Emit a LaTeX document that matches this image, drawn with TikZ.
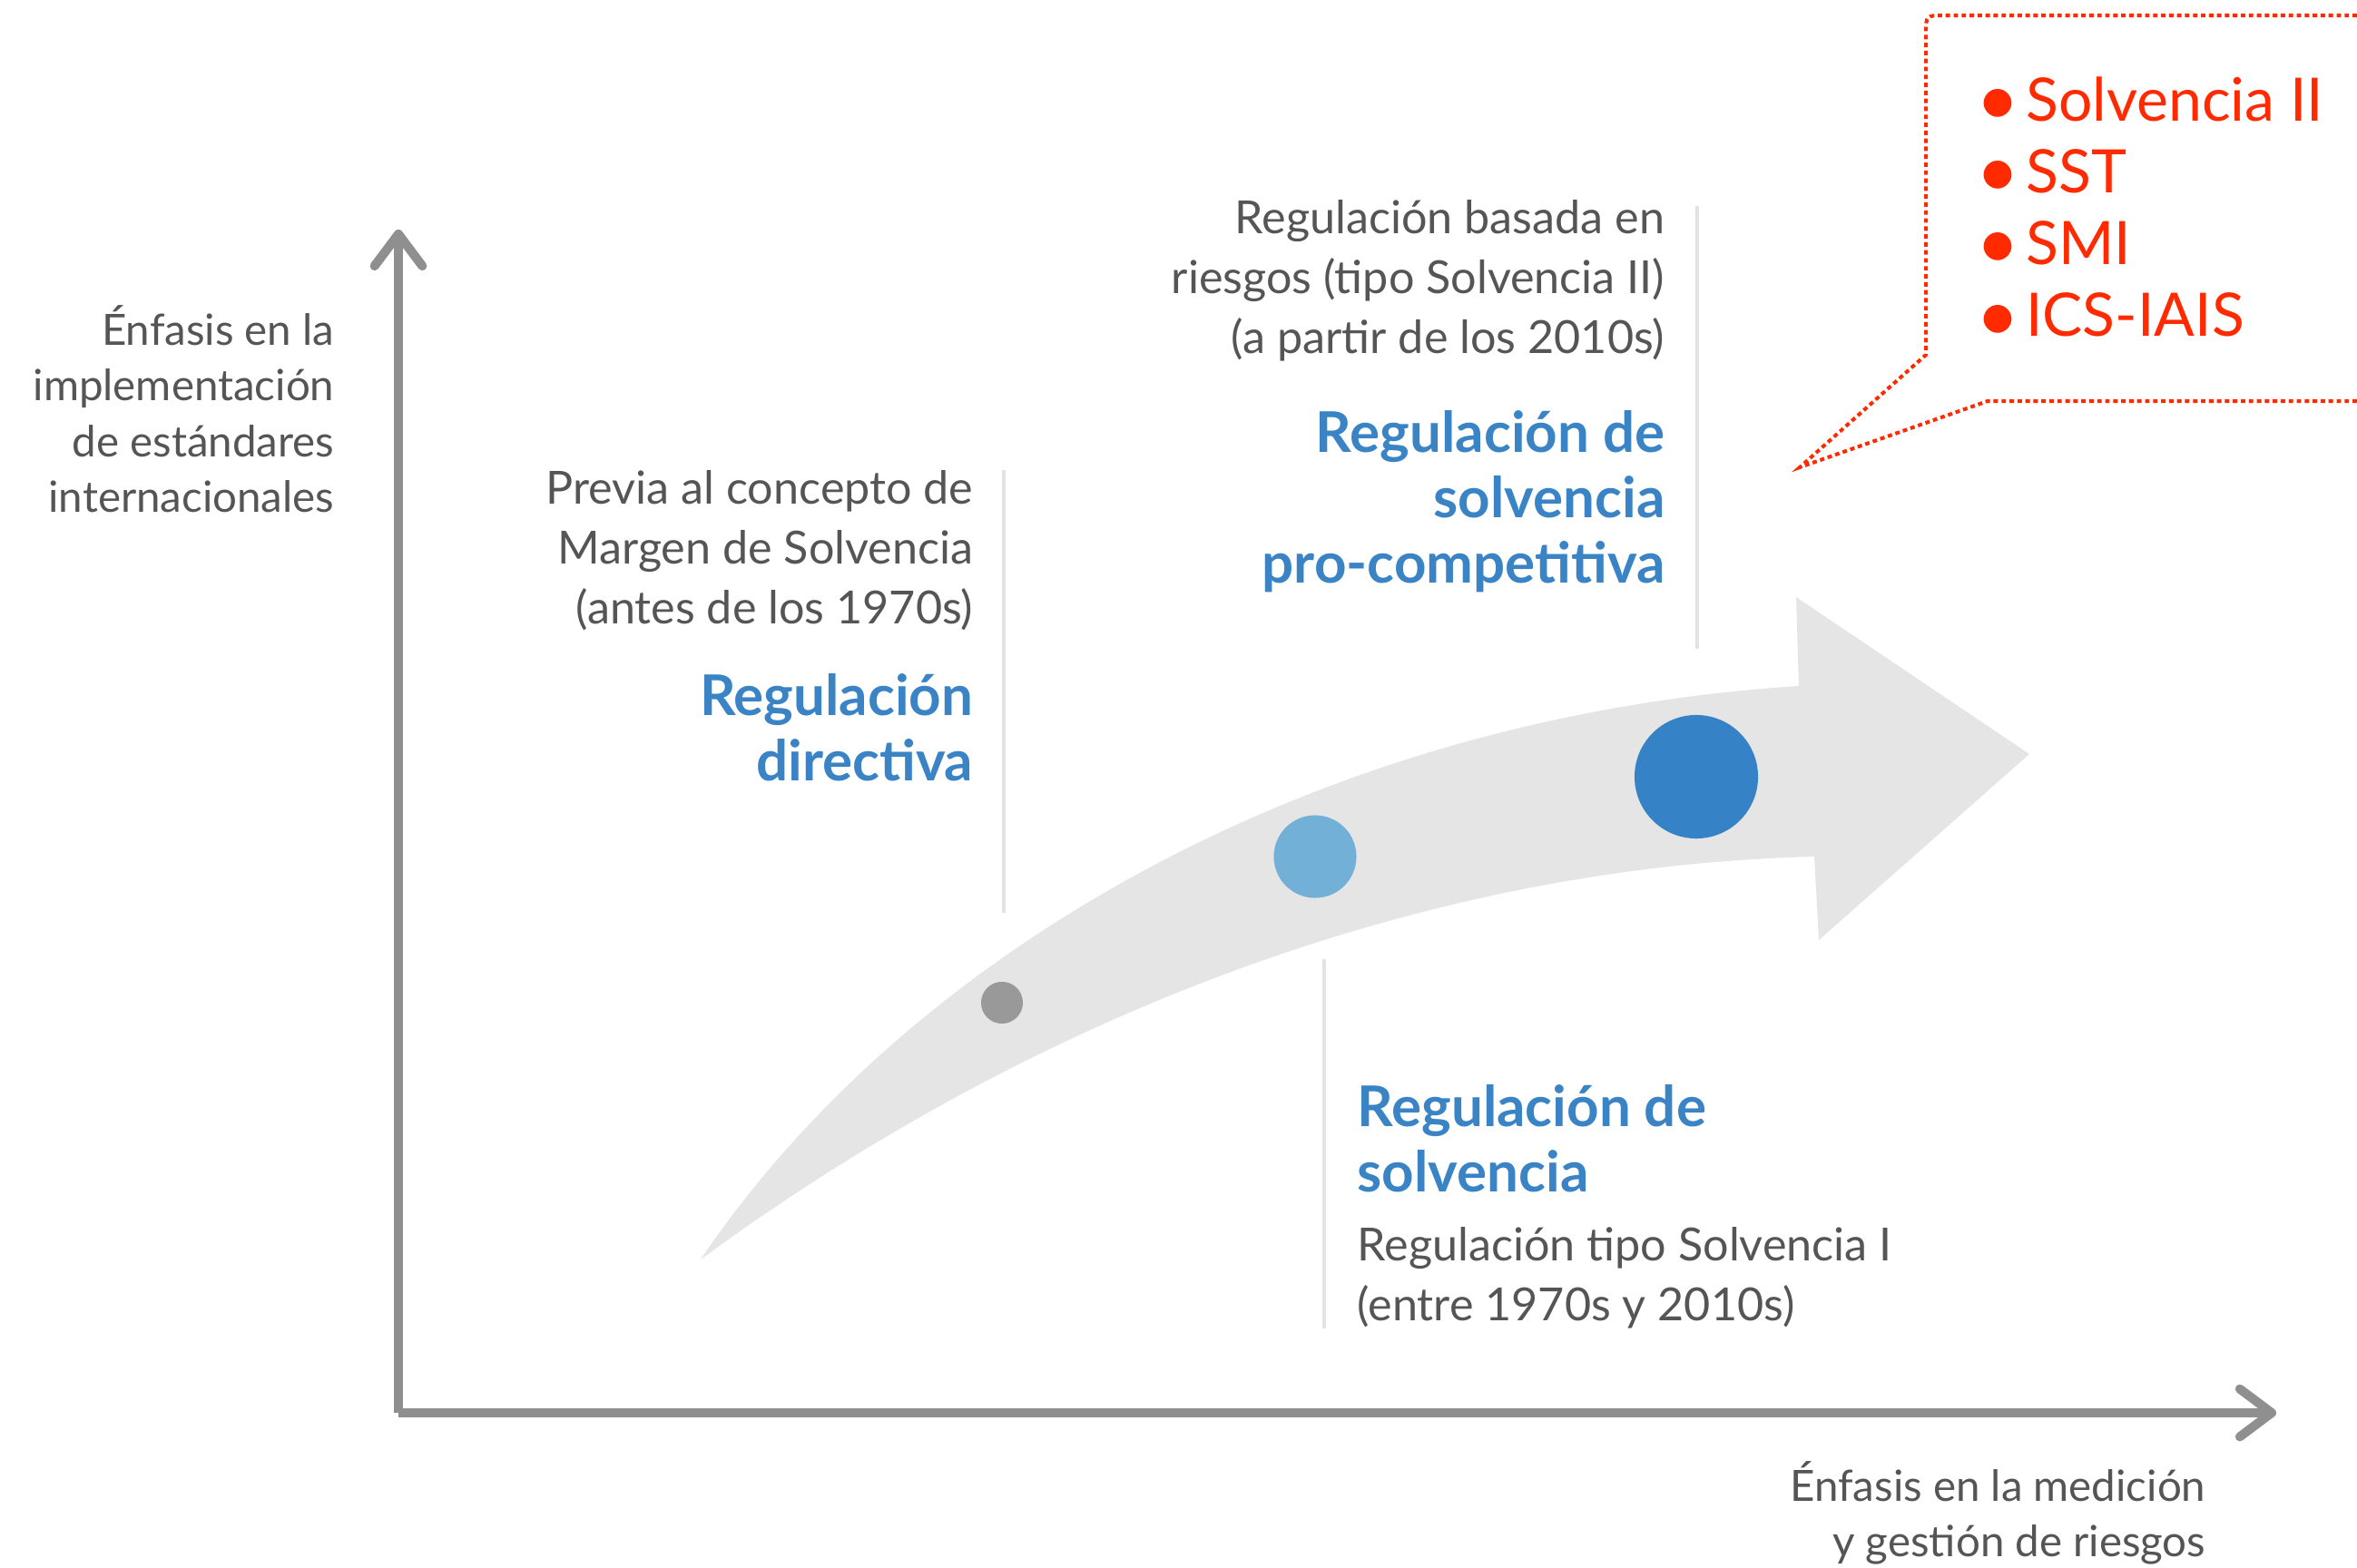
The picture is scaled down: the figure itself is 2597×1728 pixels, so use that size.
\documentclass[tikz,border=0pt]{standalone}
\usepackage{fontspec}
\setmainfont{Lato}
\usetikzlibrary{arrows.meta}
\definecolor{axisgray}{HTML}{8F8F8F}
\definecolor{txtgray}{HTML}{555555}
\definecolor{sepgray}{HTML}{E3E3E3}
\definecolor{arrowfill}{HTML}{E5E5E5}
\definecolor{bluetxt}{HTML}{3A84C6}
\definecolor{dotblue}{HTML}{3582C6}
\definecolor{dotlight}{HTML}{72B0D8}
\definecolor{dotgray}{HTML}{999999}
\definecolor{calred}{HTML}{FF2A00}
\newcommand{\calbul}{\raisebox{-0.08em}{\scalebox{1.25}{•}}\hspace{0.1em}}
\begin{document}
\begin{tikzpicture}[x=0.01cm,y=-0.01cm,
  axisline/.style={draw=axisgray,line width=2.85pt,-{Straight Barb[length=10pt,width=15pt,round]}},
  sepline/.style={draw=sepgray,line width=1.2pt},
  graytxt/.style={text=txtgray,font=\fontsize{14.3}{18.8}\selectfont,inner sep=0pt},
  axislbl/.style={text=txtgray,font=\fontsize{13.5}{17.4}\selectfont,inner sep=0pt,align=right},
  bluelbl/.style={text=bluetxt,font=\fontsize{17.6}{20.4}\selectfont\bfseries,inner sep=0pt},
  dot/.style={circle,inner sep=0pt,minimum size=#1},
  callout/.style={draw=calred,line width=1.15pt,dash pattern=on 1.4pt off 1.1pt},
  calltxt/.style={text=calred,font=\fontsize{18.8}{22.5}\selectfont,inner sep=0pt,align=left}
]
\useasboundingbox (0,0) rectangle (2597,1728);

% big curved arrow
\fill[arrowfill] (772,1388) .. controls (1000,1050) and (1450,790) .. (1982,756)
  -- (1979,658) -- (2236,831) -- (2004,1036) -- (1999,944)
  .. controls (1560,955) and (1130,1125) .. (772,1388) -- cycle;

% axes
\coordinate (O) at (439,1557);
\coordinate (ytip) at (439,253);
\coordinate (xtip) at (2508,1557);
\draw[axisline] (O) -- (ytip);
\draw[axisline] (O) -- (xtip);

% separator lines
\coordinate (s1a) at (1106,518);  \coordinate (s1b) at (1106,1006);
\coordinate (s2a) at (1870,227);  \coordinate (s2b) at (1870,715);
\coordinate (s3a) at (1459,1057); \coordinate (s3b) at (1459,1464);
\draw[sepline] (s1a) -- (s1b);
\draw[sepline] (s2a) -- (s2b);
\draw[sepline] (s3a) -- (s3b);

% dots
\node[dot=13.1pt,fill=dotgray] (d1) at (1104,1105) {};
\node[dot=25.9pt,fill=dotlight] (d2) at (1449,944) {};
\node[dot=38.7pt,fill=dotblue] (d3) at (1869,856) {};

% axis labels
\node[axislbl,anchor=north east] (ylab) at (369,336)
  {Énfasis en la\\implementación\\de estándares\\internacionales};
\node[axislbl,anchor=north east] (xlab) at (2431,1610)
  {Énfasis en la medición\\y gestión de riesgos};

% block 1
\node[graytxt,align=right,anchor=north east] (t1) at (1073,518)
  {Previa al concepto de\\Margen de Solvencia\\(antes de los 1970s)};
\node[bluelbl,align=right,anchor=north east] (b1) at (1073,742)
  {Regulación\\directiva};

% block 2
\node[graytxt,align=right,anchor=north east] (t2) at (1835,220)
  {Regulación basada en\\riesgos (tipo Solvencia II)\\(a partir de los 2010s)};
\node[bluelbl,align=right,anchor=north east] (b2) at (1835,452)
  {Regulación de\\solvencia\\pro-competitiva};

% block 3
\node[bluelbl,align=left,anchor=north west] (b3) at (1495,1195)
  {Regulación de\\solvencia};
\node[graytxt,align=left,anchor=north west] (t3) at (1495,1352)
  {Regulación tipo Solvencia I\\(entre 1970s y 2010s)};

% callout
\coordinate (c1) at (2597,17);
\coordinate (c2) at (2142,17);
\coordinate (c3) at (2122,37);
\coordinate (c4) at (2122,391);
\coordinate (ctip) at (1983,515);
\coordinate (c5) at (2190,442);
\coordinate (c6) at (2597,442);
\draw[callout] (c1) -- (c2) .. controls (2122,17) .. (c3) -- (c4) -- (ctip) -- (c5) -- (c6);
\node[calltxt,anchor=north west] (list) at (2177,84)
  {\calbul Solvencia II\\\calbul SST\\\calbul SMI\\\calbul ICS-IAIS};
\end{tikzpicture}
\end{document}
